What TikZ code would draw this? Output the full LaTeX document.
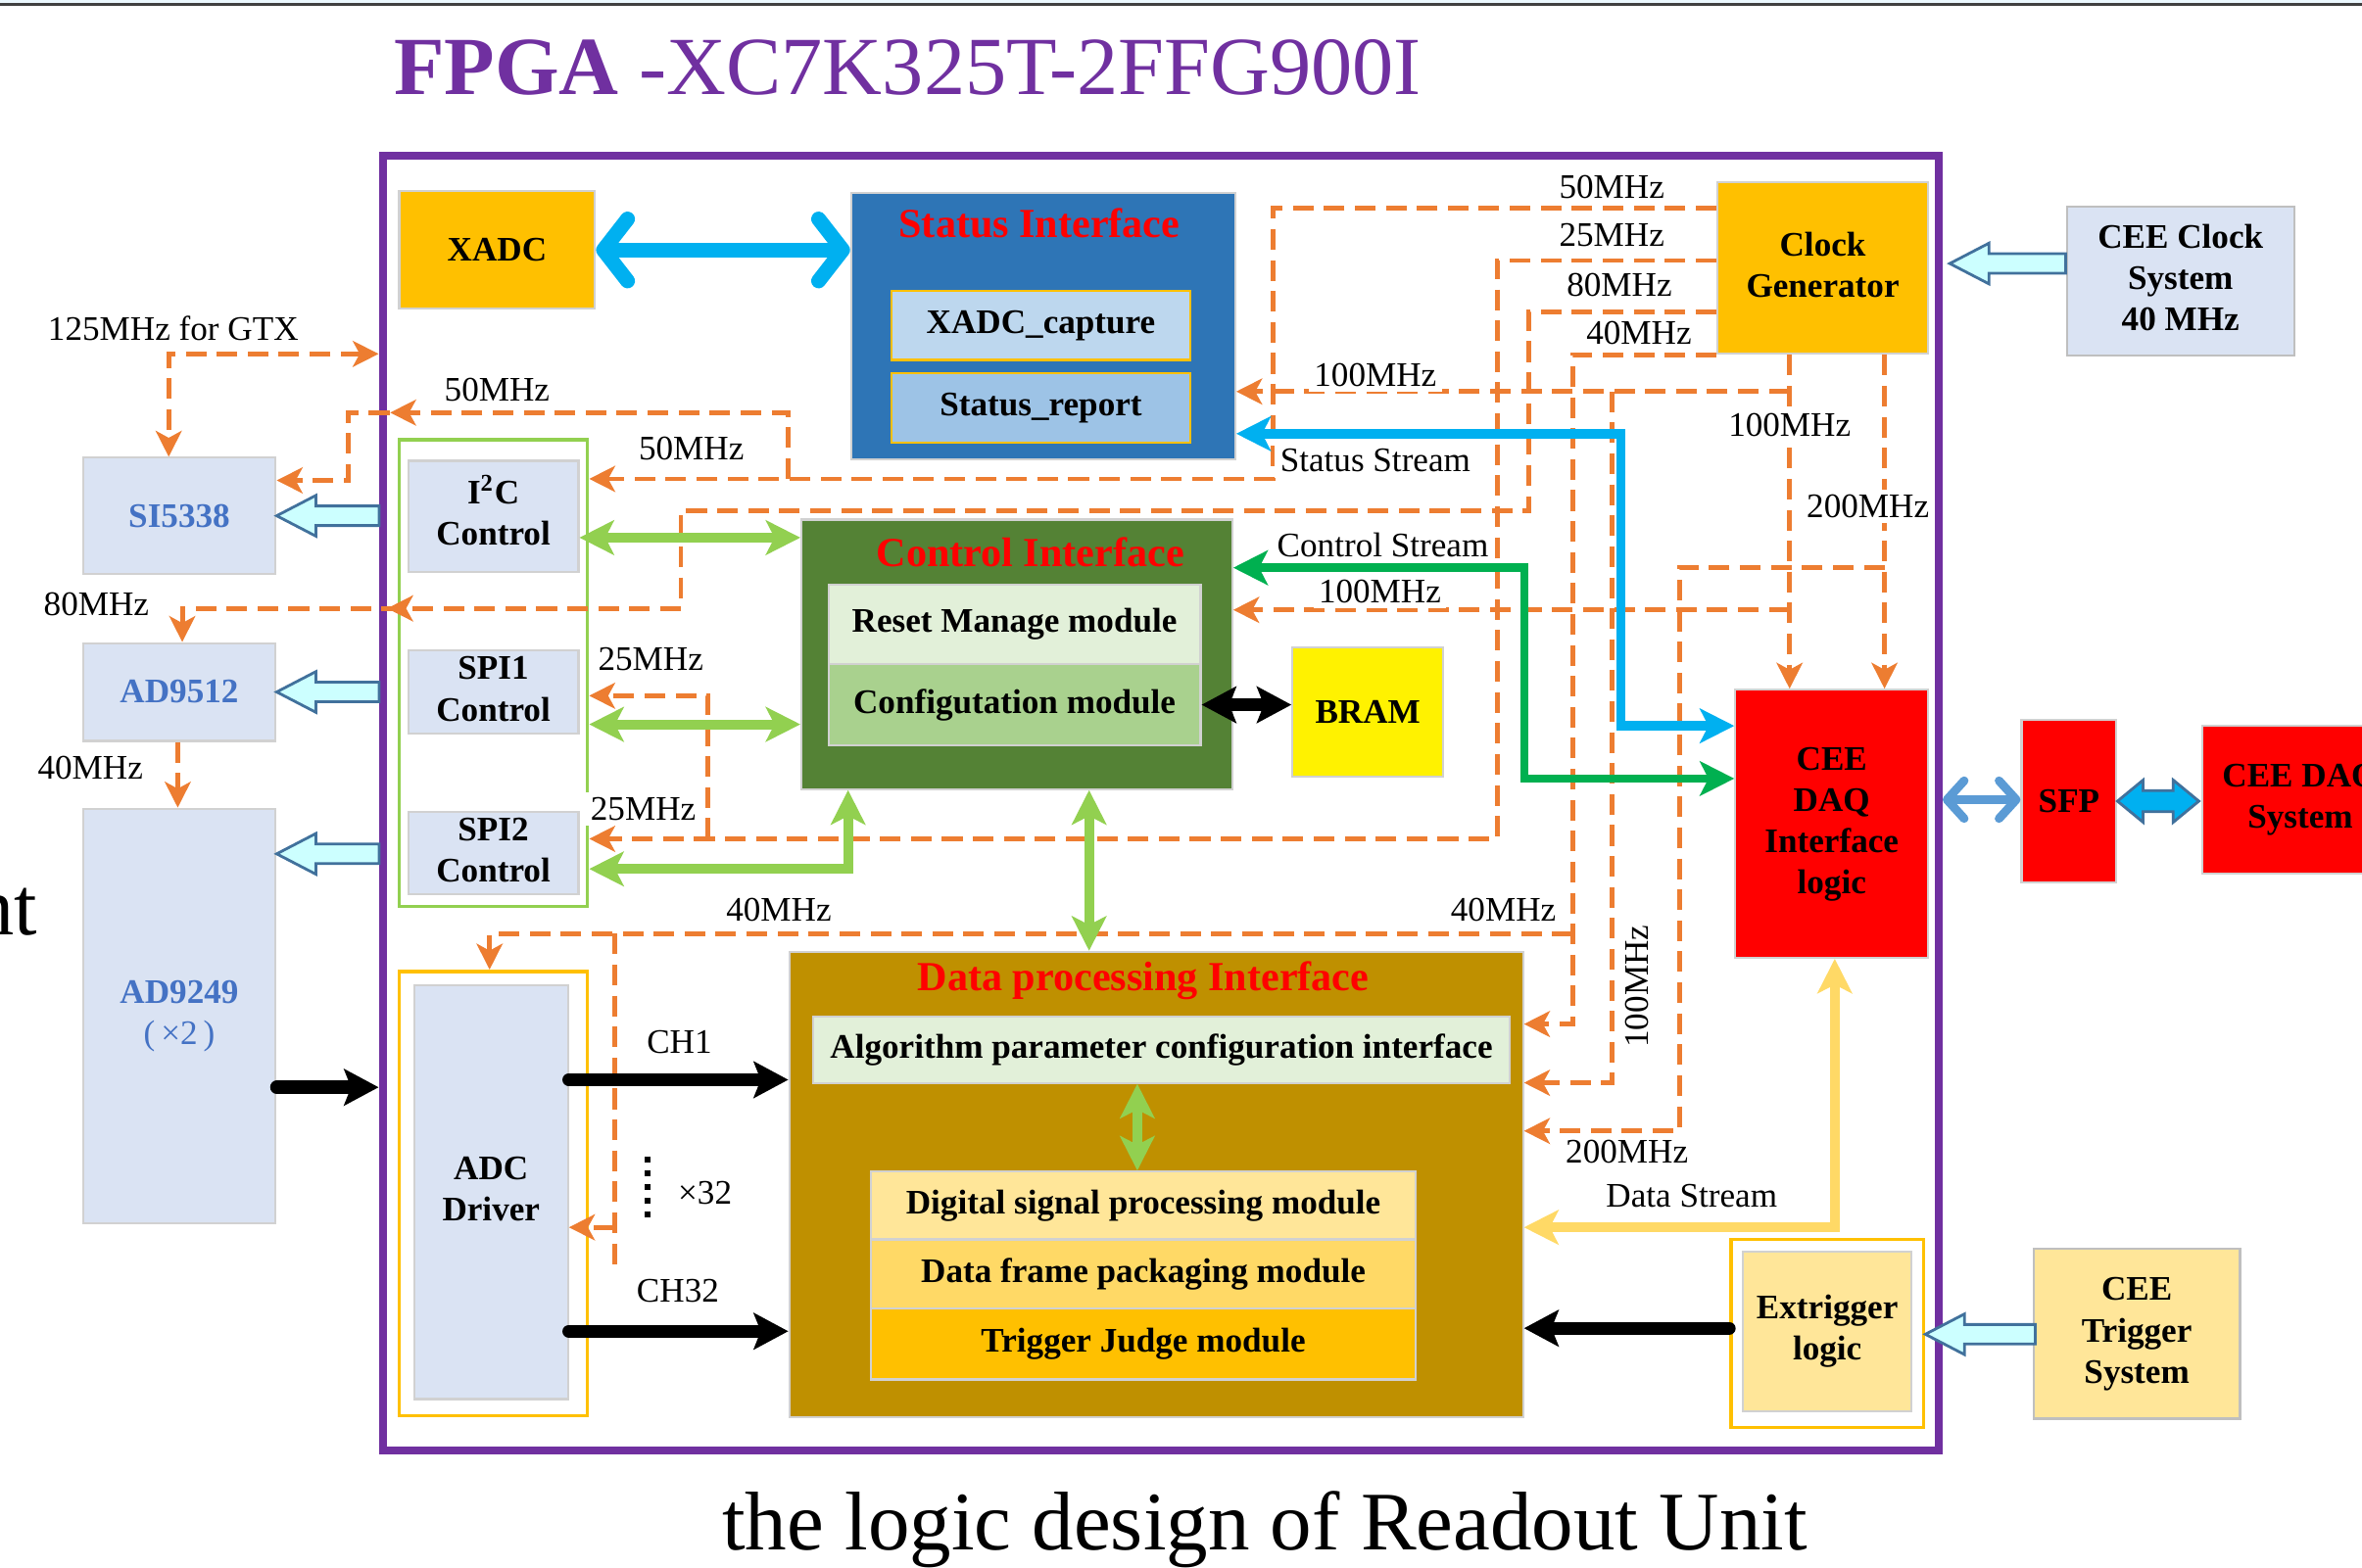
\documentclass[tikz,border=0pt]{standalone}
\usepackage{fontspec}
\setmainfont{Liberation Serif}
\usetikzlibrary{positioning,calc,fit,arrows.meta}

\definecolor{fpgapurple}{HTML}{7030A0}
\definecolor{clkorange}{HTML}{ED7D31}
\definecolor{gold}{HTML}{FFC000}
\definecolor{statblue}{HTML}{2E75B6}
\definecolor{capblue}{HTML}{BDD7EE}
\definecolor{repblue}{HTML}{9DC3E6}
\definecolor{lavender}{HTML}{DAE3F3}
\definecolor{chipblue}{HTML}{4472C4}
\definecolor{ctrlgreen}{HTML}{548235}
\definecolor{resetgreen}{HTML}{E2F0D9}
\definecolor{cfggreen}{HTML}{A9D18E}
\definecolor{lightgreen}{HTML}{92D050}
\definecolor{streamgreen}{HTML}{00B050}
\definecolor{streamblue}{HTML}{00B0F0}
\definecolor{dataochre}{HTML}{BF9000}
\definecolor{paleyellow}{HTML}{FFE699}
\definecolor{midyellow}{HTML}{FFD966}
\definecolor{hollowfill}{HTML}{CCFFFF}
\definecolor{hollowedge}{HTML}{41719C}
\definecolor{sfpblue}{HTML}{5B9BD5}

\newcommand{\stack}[1]{\begin{tabular}{@{}c@{}}#1\end{tabular}}
\newcommand{\hollowarrow}[2]{%
  \draw[hollowedge, fill=hollowfill, line width=0.8pt] #1 -- ++(26,-13.5) -- ++(0,7) -- ++(#2-26,0) -- ++(0,13) -- ++(26-#2,0) -- ++(0,7) -- cycle;}

\begin{document}
\begin{tikzpicture}[x=0.015376cm, y=-0.015376cm,
    blk/.style={draw=black!18, line width=0.6pt, inner sep=0pt},
    txt/.style={inner sep=0pt, font=\bfseries\fontsize{10}{12}\selectfont},
    grp/.style={line width=1pt, inner sep=0pt},
    ttl/.style={text=red, inner sep=0pt, font=\bfseries\fontsize{12}{14}\selectfont},
    lab/.style={fill=white, inner sep=1.5pt, font=\fontsize{10}{12}\selectfont},
    clk/.style={clkorange, line width=1.4pt, dash pattern=on 6pt off 3pt},
    >={Stealth[length=7.5pt, width=7.5pt, inset=2pt]},
    fattip/.tip={Stealth[length=10pt, width=10pt, inset=2.5pt]},
    blacktip/.tip={Stealth[length=10pt, width=10.5pt, inset=2pt]},
    barbtip/.tip={Straight Barb[length=7pt, width=18pt, line cap=round, line join=round]},
    smallbarb/.tip={Straight Barb[length=5pt, width=11pt, line cap=round, line join=round]},
    fat/.style={line width=2.8pt, fattip-fattip},
    heavy/.style={black, line width=3.8pt, line cap=round, -blacktip}]
\useasboundingbox (0,0) rectangle (1568,1041);
\clip (0,0) rectangle (1568,1041);

\fill[cyan!8] (0,0) rectangle (1568,2.5);
\draw[black!75, line width=0.9pt] (0,3.2) -- (1568,3.2);

\node[anchor=base west, inner sep=0pt, text=fpgapurple, font=\fontsize{24}{28}\selectfont] (title) at (261,63) {\textbf{FPGA} -XC7K325T-2FFG900I};
\node[anchor=base west, inner sep=0pt, font=\fontsize{24.2}{28}\selectfont] (caption) at (479,1029.5) {the logic design of Readout Unit};
\node[anchor=base east, inner sep=0pt, font=\fontsize{24}{28}\selectfont] (cutoff) at (25,621) {nt};

\node[draw=fpgapurple, line width=2.3pt, inner sep=0pt, fit={(254,103.5)(1287,963)}] (fpga) {};

\node[blk, fill=gold, fit={(265,127)(395,205)}, label={[txt]center:XADC}] (xadc) {};
\node[blk, fill=statblue, fit={(565,128)(820,305)}] (status) {};
\node[ttl] (statusttl) at (690,148) {Status Interface};
\node[blk, fill=capblue, draw=gold, fit={(592,193)(790,239)}, label={[txt]center:XADC\_capture}] (xcap) {};
\node[blk, fill=repblue, draw=gold, fit={(592,248)(790,294)}, label={[txt]center:Status\_report}] (srep) {};
\node[blk, fill=gold, fit={(1140,121)(1280,235)}, label={[txt]center:\stack{Clock\\Generator}}] (clkgen) {};
\node[blk, fill=lavender, draw=black!25, fit={(1372,137)(1523,236)}, label={[txt]center:\stack{CEE Clock\\System\\40 MHz}}] (ceeclk) {};

\node[blk, fill=lavender, fit={(55,304)(183,381)}, label={[txt, text=chipblue]center:SI5338}] (si) {};
\node[blk, fill=lavender, fit={(55,427)(183,492)}, label={[txt, text=chipblue]center:AD9512}] (ad12) {};
\node[blk, fill=lavender, fit={(55,537)(183,812)}, label={[txt, text=chipblue]center:\stack{AD9249\\\mdseries(\,×2\,)}}] (ad49) {};

\node[grp, draw=lightgreen, fit={(265,292)(390,602)}] (ctlgrp) {};
\node[blk, fill=lavender, fit={(271,306)(384,380)}, label={[txt]center:\stack{I\textsuperscript{2}C\\Control}}] (i2c) {};
\node[blk, fill=lavender, fit={(271,432)(384,487)}, label={[txt]center:\stack{SPI1\\Control}}] (spi1) {};
\node[blk, fill=lavender, fit={(271,539)(384,594)}, label={[txt]center:\stack{SPI2\\Control}}] (spi2) {};

\node[blk, fill=ctrlgreen, fit={(532,345)(818,524)}] (ctrl) {};
\node[ttl] (ctrlttl) at (684,367) {Control Interface};
\node[blk, fill=resetgreen, fit={(550,388)(797,441)}, label={[txt]center:Reset Manage module}] (reset) {};
\node[blk, fill=cfggreen, fit={(550,441)(797,495)}, label={[txt]center:Configutation module}] (config) {};
\node[blk, fill=yellow, fit={(858,430)(958,516)}, label={[txt]center:BRAM}] (bram) {};

\node[blk, fill=dataochre, fit={(524,632)(1011,941)}] (dproc) {};
\node[ttl] (dprocttl) at (759,651) {Data processing Interface};
\node[blk, fill=resetgreen, fit={(540,675)(1002,719)}, label={[txt]center:Algorithm parameter configuration interface}] (algo) {};
\node[blk, fill=paleyellow, fit={(578,778)(940,823)}, label={[txt]center:Digital signal processing module}] (dsp) {};
\node[blk, fill=midyellow, fit={(578,823)(940,869)}, label={[txt]center:Data frame packaging module}] (dframe) {};
\node[blk, fill=gold, fit={(578,869)(940,916)}, label={[txt]center:Trigger Judge module}] (tjudge) {};

\node[grp, draw=gold, fit={(265,645)(390,940)}] (adcgrp) {};
\node[blk, fill=lavender, fit={(275,654)(377,929)}, label={[txt]center:\stack{ADC\\Driver}}] (adc) {};

\node[blk, fill=red, fit={(1152,458)(1280,636)}, label={[txt]center:\stack{CEE\\DAQ\\Interface\\logic}}] (daq) {};
\node[blk, fill=red, fit={(1342,478)(1405,586)}, label={[txt]center:SFP}] (sfp) {};
\node[blk, fill=red, fit={(1462,482)(1592,580)}, label={[txt]center:\stack{CEE DAQ\\System}}] (daqsys) {};

\node[grp, draw=gold, fit={(1149,823)(1277,948)}] (trggrp) {};
\node[blk, fill=paleyellow, fit={(1157,831)(1269,937)}, label={[txt]center:\stack{Extrigger\\logic}}] (extrig) {};
\node[blk, fill=paleyellow, draw=black!25, fit={(1350,829)(1487,942)}, label={[txt]center:\stack{CEE\\Trigger\\System}}] (ceetrig) {};

\draw[clk, ->] (clkgen.west |- 0,138) -| (845,318) -- (ctlgrp.east |- 0,318);
\draw[clk, ->] (523,318) |- (231,274) |- (si.east |- 0,319);
\draw[clkorange, line width=1.4pt, ->] (270,274) -- (259,274);
\draw[clk, <->] (fpga.west |- 0,235) -| (si.north -| 112,0);
\draw[clk, ->] (clkgen.west |- 0,173) -| (994,557) -- (ctlgrp.east |- 0,557);
\draw[clk, ->] (470,557) |- (ctlgrp.east |- 0,462);
\draw[clk, ->] (clkgen.west |- 0,207) -| (1015,339) -| (452,404) -| (ad12.north -| 121,0);
\draw[clkorange, line width=1.4pt, ->] (268,404) -- (257,404);
\draw[clk, ->] (clkgen.south west) -| (1044,680) -- (dproc.east |- 0,680);
\draw[clk, ->] (1044,620) -| (adcgrp.north -| 325,0);
\draw[clk] (408,620) -- (408,845);
\draw[clk, ->] (408,815) -- (adc.east |- 0,815);
\draw[clk, ->] (clkgen.south -| 1188,0) -- (daq.north -| 1188,0);
\draw[clk, ->] (1188,260) -- (status.east |- 0,260);
\draw[clk, ->] (1070,260) |- (dproc.east |- 0,719);
\draw[clk, ->] (1188,405) -- (ctrl.east |- 0,405);
\draw[clk, ->] (clkgen.south -| 1251,0) -- (daq.north -| 1251,0);
\draw[clk, ->] (1251,377) -| (1115,751) -- (dproc.east |- 0,751);
\draw[clk, ->] (ad12.south -| 118,0) -- (ad49.north -| 118,0);

\draw[streamblue, line width=4.3pt, barbtip-barbtip] (xadc.east) -- (xadc.east -| status.west);
\draw[streamblue, fat] (status.east |- 0,288) -| (1076,482) -- (daq.west |- 0,482);
\draw[streamgreen, line width=2.5pt, fattip-fattip] (ctrl.east |- 0,377) -| (1012,517) -- (daq.west |- 0,517);
\draw[midyellow, fat] (daq.south -| 1218,0) |- (dproc.east |- 0,815);

\draw[lightgreen, fat] (i2c.east |- 0,357) -- (ctrl.west |- 0,357);
\draw[lightgreen, fat] (ctlgrp.east |- 0,481) -- (ctrl.west |- 0,481);
\draw[lightgreen, fat] (ctlgrp.east |- 0,577) -| (ctrl.south -| 563,0);
\draw[lightgreen, fat] (ctrl.south -| 723,0) -- (dproc.north -| 723,0);
\draw[lightgreen, fat] (algo.south -| 755,0) -- (dsp.north -| 755,0);

\draw[heavy, blacktip-blacktip, line cap=butt] (config.east) -- (bram.west |- config.east);
\draw[heavy] (ad49.east |- 0,722) -- (fpga.west |- 0,722);
\draw[heavy] (adc.east |- 0,717) -- (dproc.west |- 0,717);
\draw[heavy] (adc.east |- 0,884) -- (dproc.west |- 0,884);
\draw[heavy] (trggrp.west |- 0,882) -- (dproc.east |- 0,882);

\draw[sfpblue, line width=2.5pt, smallbarb-smallbarb] (fpga.east |- 0,531) -- (sfp.west |- 0,531);
\draw[hollowedge, fill=streamblue, line width=0.8pt] (sfp.east |- 0,532) -- ++(17,-14) -- ++(0,7) -- ++(20,0) -- ++(0,-7) -- ++(17,14) -- ++(-17,14) -- ++(0,-7) -- ++(-20,0) -- ++(0,7) -- cycle;

\hollowarrow{(si.east)}{68}
\hollowarrow{(ad12.east)}{68}
\hollowarrow{(ad49.east |- 0,567)}{68}
\hollowarrow{(ceeclk.west |- 0,175) ++(-77,0)}{77}
\hollowarrow{(trggrp.east |- 0,886)}{73}

\draw[line width=1.8pt, dash pattern=on 1.8pt off 2.2pt] (430,768) -- (430,809);

\node[lab] (f50a) at (1070,124) {50MHz};
\node[lab] (f25a) at (1070,156) {25MHz};
\node[lab] (f80a) at (1075,189) {80MHz};
\node[lab] (f40a) at (1088,221) {40MHz};
\node[lab] (f100a) at (913,249) {100MHz};
\node[lab] (sstream) at (913,306) {Status Stream};
\node[lab] (f100b) at (1188,282) {100MHz};
\node[lab] (f200a) at (1240,336) {200MHz};
\node[lab] (cstream) at (918,362) {Control Stream};
\node[lab] (f100c) at (916,393) {100MHz};
\node[lab] (fgtx) at (115,218) {125MHz for GTX};
\node[lab] (f50b) at (330,259) {50MHz};
\node[lab] (f50c) at (459,298) {50MHz};
\node[lab] (f80b) at (64,401) {80MHz};
\node[lab] (f25b) at (432,438) {25MHz};
\node[lab] (f40b) at (60,510) {40MHz};
\node[lab] (f25c) at (427,537) {25MHz};
\node[lab] (f40c) at (517,604) {40MHz};
\node[lab] (f40d) at (998,604) {40MHz};
\node[lab, rotate=90] (f100d) at (1087,655) {100MHz};
\node[lab] (ch1) at (451,692) {CH1};
\node[lab] (x32) at (468,792) {×32};
\node[lab] (ch32) at (450,857) {CH32};
\node[lab] (f200b) at (1080,765) {200MHz};
\node[lab] (dstream) at (1123,794) {Data Stream};
\end{tikzpicture}
\end{document}
